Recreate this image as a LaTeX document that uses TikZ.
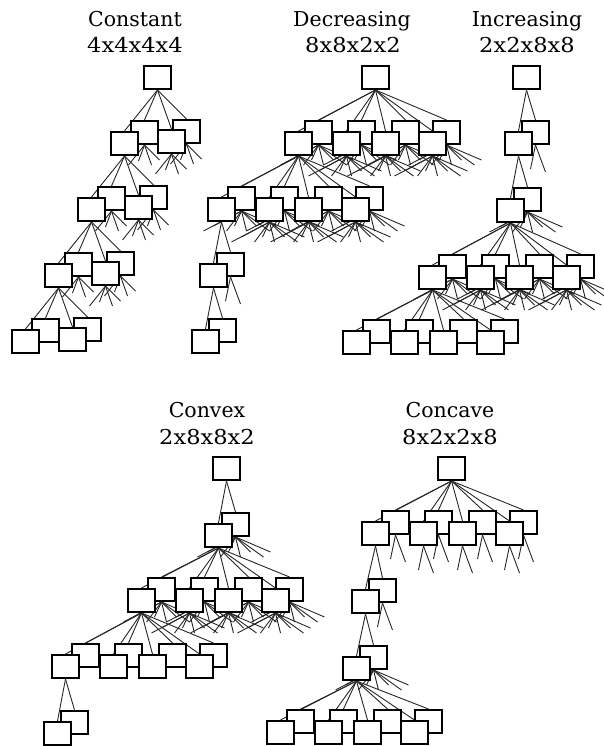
\documentclass[tikz,border=0pt]{standalone}
\usepackage{fontspec}
\usepackage{graphicx}
\setmainfont{DejaVu Serif}
\pgfdeclarelayer{back}
\pgfsetlayers{back,main}

% child places (j/dx/dy) for groups of 2, 4 and 8
\def\kidsii{1/0/0,2/17/-11}
\def\kidsiv{1/0/0,2/20/-11,3/47/-2,4/62/-12}
\def\kidsviii{1/0/0,2/20/-11,3/48/0,4/63/-11,5/87/0,6/107/-11,7/134/0,8/148/-11}
% short fans under the boxes that are not opened
\def\fanii{-5/24,10/27}
\def\faniv{-16/20,-6/16,7/20,15/15}
\def\fanviii{-38/20,-28/15,-15/20,-7/15,5/20,15/15,28/20,35/15}

\newcommand\wide[1]{\scalebox{1.1}[1]{#1}}

% \level{parent}{row}{kids}{x}{y}
\newcommand\level[5]{%
  \foreach \j/\dx/\dy in #3 {\ifodd\j\else\node[cell] (#2-\j) at (#4+\dx,#5+\dy) {};\fi}
  \foreach \j/\dx/\dy in #3 {\ifodd\j\node[cell] (#2-\j) at (#4+\dx,#5+\dy) {};\fi}
  \begin{pgfonlayer}{back}
  \foreach \j/\dx/\dy in #3 {\draw[link] (#1.south) -- (#2-\j.north);}
  \end{pgfonlayer}}

% \stubs{row}{kids}{fan}
\newcommand\stubs[3]{%
  \begin{pgfonlayer}{back}
  \foreach \j/\dx/\dy in #2 {\ifnum\j>1
    \foreach \sx/\sy in #3 {\draw[link] (#1-\j.south) -- ++(\sx,\sy);}\fi}
  \end{pgfonlayer}}

\begin{document}
\begin{tikzpicture}[x=1pt,y=-1pt,
  cell/.style={draw,line width=2.4pt,fill=white,minimum width=26.6pt,minimum height=22.6pt,inner sep=0pt,anchor=north west},
  link/.style={draw=black!85,line width=0.9pt},
  heading/.style={font=\fontsize{20.5pt}{24pt}\selectfont,anchor=base}]
\useasboundingbox (0,0) rectangle (603,746);

% Constant
\node[heading] (c-name) at (135,27) {Constant};
\node[heading] (c-dims) at (135,53) {\wide{4x4x4x4}};
\node[cell] (c0) at (143,65) {};
\level{c0}{c1}{\kidsiv}{110}{131}
\level{c1-1}{c2}{\kidsiv}{77}{197}
\level{c2-1}{c3}{\kidsiv}{44}{263}
\level{c3-1}{c4}{\kidsiv}{11}{329}
\stubs{c1}{\kidsiv}{\faniv}
\stubs{c2}{\kidsiv}{\faniv}
\stubs{c3}{\kidsiv}{\faniv}

% Decreasing
\node[heading] (d-name) at (352,27) {Decreasing};
\node[heading] (d-dims) at (353,53) {\wide{8x8x2x2}};
\node[cell] (d0) at (361,65) {};
\level{d0}{d1}{\kidsviii}{284}{131}
\level{d1-1}{d2}{\kidsviii}{207}{197}
\level{d2-1}{d3}{\kidsii}{199}{263}
\level{d3-1}{d4}{\kidsii}{191}{329}
\stubs{d1}{\kidsviii}{\fanviii}
\stubs{d2}{\kidsviii}{\fanviii}
\stubs{d3}{\kidsii}{\fanii}

% Increasing
\node[heading] (i-name) at (527,27) {Increasing};
\node[heading] (i-dims) at (527,53) {\wide{2x2x8x8}};
\node[cell] (i0) at (512,65) {};
\level{i0}{i1}{\kidsii}{504}{131}
\level{i1-1}{i2}{\kidsii}{496}{198}
\level{i2-1}{i3}{\kidsviii}{418}{265}
\level{i3-1}{i4}{\kidsviii}{342}{330}
\stubs{i1}{\kidsii}{\fanii}
\stubs{i2}{\kidsii}{\fanviii}
\stubs{i3}{\kidsviii}{\fanviii}

% Convex
\node[heading] (v-name) at (207,417) {Convex};
\node[heading] (v-dims) at (207,444) {\wide{2x8x8x2}};
\node[cell] (v0) at (212,456) {};
\level{v0}{v1}{\kidsii}{204}{523}
\level{v1-1}{v2}{\kidsviii}{127}{588}
\level{v2-1}{v3}{\kidsviii}{51}{654}
\level{v3-1}{v4}{\kidsii}{43}{721}
\stubs{v1}{\kidsii}{\fanviii}
\stubs{v2}{\kidsviii}{\fanviii}

% Concave
\node[heading] (e-name) at (450,417) {Concave};
\node[heading] (e-dims) at (450,444) {\wide{8x2x2x8}};
\node[cell] (e0) at (437,456) {};
\level{e0}{e1}{\kidsviii}{361}{521}
\level{e1-1}{e2}{\kidsii}{351}{589}
\level{e2-1}{e3}{\kidsii}{342}{656}
\level{e3-1}{e4}{\kidsviii}{266}{720}
\stubs{e1}{\kidsviii}{\fanii}
\stubs{e2}{\kidsii}{\fanii}
\stubs{e3}{\kidsii}{\fanviii}
\end{tikzpicture}
\end{document}
